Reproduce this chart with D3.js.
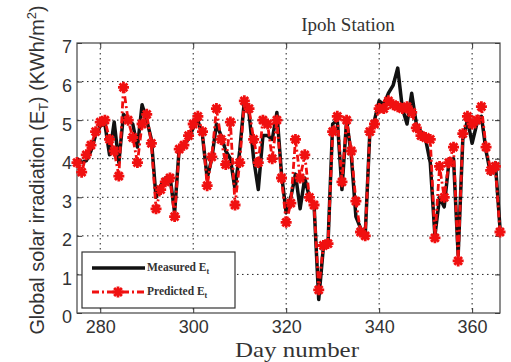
<!DOCTYPE html>
<html>
<head>
<meta charset="utf-8">
<script src="https://cdn.jsdelivr.net/npm/d3@7"></script>
<style>
  body { margin: 0; background: #fff; }
  svg { display: block; }
  svg text { fill: #333; }
  .serif { font-family: "Liberation Serif", "Times New Roman", serif; }
  .sans { font-family: "Liberation Sans", Arial, sans-serif; }
</style>
</head>
<body>
<div id="container"></div>
<script>
// day numbers 275..366
let days = d3.range(275, 367);

let measured = [
  4.0, 3.9, 3.95, 4.2, 4.6, 4.85, 4.9, 4.1, 4.95, 3.9,
  5.15, 5.0, 4.9, 4.3, 5.4, 5.0, 4.5, 3.0, 3.3, 3.5,
  3.55, 2.6, 4.3, 4.4, 4.5, 4.8, 5.0, 4.6, 3.5, 4.0,
  4.9, 4.6, 4.2, 4.0, 3.2, 4.2, 5.5, 5.2, 4.0, 3.2,
  4.6, 4.6, 4.5, 5.2, 3.6, 2.6, 3.0, 3.6, 2.7, 3.5,
  3.0, 2.8, 0.35, 1.7, 1.8, 4.9, 5.0, 3.2, 5.0, 4.1,
  2.5, 2.2, 2.0, 4.7, 5.0, 5.5, 5.4, 5.7, 5.9, 6.35,
  5.3, 4.9, 5.7, 4.9, 4.7, 4.5, 3.9, 2.0, 3.0, 2.75,
  3.9, 4.0, 1.5, 4.5, 5.0, 4.4, 4.9, 5.1, 4.2, 3.6,
  3.9, 2.2
];

let predicted = [
  3.9, 3.65, 4.1, 4.35, 4.7, 4.95, 5.0, 4.5, 4.2, 3.55,
  5.85, 5.0, 4.55, 3.9, 4.9, 5.15, 4.4, 2.7, 3.2, 3.4,
  3.5, 2.5, 4.25, 4.35, 4.6, 4.9, 5.1, 4.7, 3.3, 4.05,
  5.3, 4.5, 3.85, 4.95, 2.8, 3.9, 5.5, 5.3, 4.5, 3.9,
  5.0, 4.9, 4.0, 5.0, 3.5, 2.35, 2.85, 4.5, 3.5, 4.1,
  3.0, 2.8, 0.6, 1.75, 1.8, 4.7, 5.1, 3.4, 5.0, 4.2,
  2.9, 2.1, 2.0, 4.7, 4.9, 5.3, 5.3, 5.5, 5.4, 5.35,
  5.3, 5.35, 5.2, 4.8, 4.6, 4.55, 4.5, 1.95, 3.8, 3.0,
  3.9, 4.3, 1.35, 4.65, 5.1, 4.9, 5.0, 5.35, 4.3, 3.7,
  3.8, 2.1
];

let xTicks = [280, 300, 320, 340, 360];
let yTicks = [0, 1, 2, 3, 4, 5, 6, 7];

let svgWidth = 511;
let svgHeight = 362;
let margin = {l: 77, r: 11, t: 43, b: 49};
let w = svgWidth - margin.l - margin.r;
let h = svgHeight - margin.t - margin.b;

let svg = d3.select("#container").append("svg")
    .attr("width", svgWidth)
    .attr("height", svgHeight);

let g = svg.append("g")
    .attr("transform", `translate(${margin.l},${margin.t})`);

let xMap = d3.scaleLinear().domain([275, 366]).range([0, w]);
let yMap = d3.scaleLinear().domain([0, 7]).range([h, 0]);

// dotted grid
g.append("g").selectAll("line").data(xTicks).join("line")
    .attr("x1", d => xMap(d)).attr("x2", d => xMap(d))
    .attr("y1", 0).attr("y2", h)
    .attr("stroke", "#222").attr("stroke-width", 1)
    .attr("stroke-dasharray", "1.5,3.5");
g.append("g").selectAll("line").data(yTicks.slice(1, -1)).join("line")
    .attr("x1", 0).attr("x2", w)
    .attr("y1", d => yMap(d)).attr("y2", d => yMap(d))
    .attr("stroke", "#222").attr("stroke-width", 1)
    .attr("stroke-dasharray", "1.5,3.5");

// axes, matlab style ticks inside on all four sides
let axStyle = a => {
  a.attr("font-family", null).attr("font-size", null);
  a.select(".domain").remove();
  a.selectAll(".tick line").attr("stroke", "#333");
  a.selectAll(".tick text").attr("fill", "#444")
      .attr("class", "sans")
      .style("font-size", "18px");
};
g.append("g").attr("transform", `translate(0,${h})`)
    .call(d3.axisBottom(xMap).tickValues(xTicks).tickSize(-5).tickPadding(7))
    .call(axStyle);
g.append("g")
    .call(d3.axisLeft(yMap).tickValues(yTicks).tickSize(-5).tickPadding(5).tickFormat(d3.format("d")))
    .call(axStyle)
    .selectAll(".tick text").attr("dy", "0.55em");
g.append("g")
    .call(d3.axisTop(xMap).tickValues(xTicks).tickSize(-5).tickFormat(""))
    .call(axStyle);
g.append("g").attr("transform", `translate(${w},0)`)
    .call(d3.axisRight(yMap).tickValues(yTicks).tickSize(-5).tickFormat(""))
    .call(axStyle);

g.append("rect")
    .attr("width", w).attr("height", h)
    .attr("fill", "none").attr("stroke", "#444").attr("stroke-width", 1.2);

let lineM = d3.line().x((d, i) => xMap(days[i])).y(d => yMap(d));

// measured
g.append("path").datum(measured)
    .attr("d", lineM)
    .attr("fill", "none").attr("stroke", "#111")
    .attr("stroke-width", 3.5).attr("stroke-linejoin", "round");

// predicted
g.append("path").datum(predicted)
    .attr("d", lineM)
    .attr("fill", "none").attr("stroke", "#f01010")
    .attr("stroke-width", 2.8)
    .attr("stroke-dasharray", "7,3,2,3");

let star = r => {
  let p = d3.path();
  for (let k = 0; k < 4; k++) {
    let a = k * Math.PI / 4;
    p.moveTo(-r * Math.cos(a), -r * Math.sin(a));
    p.lineTo(r * Math.cos(a), r * Math.sin(a));
  }
  return p.toString();
};

g.append("g").selectAll("path").data(predicted).join("path")
    .attr("transform", (d, i) => `translate(${xMap(days[i])},${yMap(d)})`)
    .attr("d", star(5.5))
    .attr("fill", "none").attr("stroke", "#f01010")
    .attr("stroke-width", 2.8);

// legend
let lg = svg.append("g").attr("transform", "translate(82,252)");
lg.append("rect").attr("width", 153).attr("height", 56)
    .attr("fill", "#fff").attr("stroke", "#333").attr("stroke-width", 1.2);
lg.append("line").attr("x1", 10).attr("x2", 63).attr("y1", 16).attr("y2", 16)
    .attr("stroke", "#111").attr("stroke-width", 3.5);
lg.append("line").attr("x1", 10).attr("x2", 63).attr("y1", 40).attr("y2", 40)
    .attr("stroke", "#f01010").attr("stroke-width", 2.8)
    .attr("stroke-dasharray", "7,3,2,3");
lg.append("path").attr("transform", "translate(36,40)").attr("d", star(5.5))
    .attr("fill", "none").attr("stroke", "#f01010").attr("stroke-width", 2.8);

let legendText = ["Measured E", "Predicted E"];
lg.selectAll("text.lab").data(legendText).join("text")
    .attr("class", "lab serif")
    .attr("x", 65).attr("y", (d, i) => 19 + i * 24)
    .style("font-size", "11.5px").style("font-weight", "bold")
    .each(function(d) {
      let t = d3.select(this);
      t.append("tspan").text(d);
      t.append("tspan").attr("dy", 3).style("font-size", "8px").text("t");
    });

// title and labels
svg.append("text").attr("class", "serif")
    .attr("x", 348).attr("y", 31)
    .attr("text-anchor", "middle")
    .style("font-size", "19px")
    .text("Ipoh Station");

svg.append("text").attr("class", "serif")
    .attr("x", 297).attr("y", 357)
    .attr("text-anchor", "middle")
    .attr("textLength", 124)
    .attr("lengthAdjust", "spacingAndGlyphs")
    .style("font-size", "22px")
    .text("Day number");

let yl = svg.append("text").attr("class", "sans")
    .attr("transform", "translate(44,170) rotate(-90)")
    .attr("text-anchor", "middle")
    .style("font-size", "19px");
yl.append("tspan").text("Global solar irradiation (E");
yl.append("tspan").attr("dy", 4).style("font-size", "13px").text("T");
yl.append("tspan").attr("dy", -4).text(") (KWh/m");
yl.append("tspan").attr("dy", -8).style("font-size", "13px").text("2");
yl.append("tspan").attr("dy", 8).text(")");
// fit the rotated label to the height it takes in the picture
let len = yl.node().getComputedTextLength();
yl.style("font-size", (19 * 330 / len) + "px");
</script>
</body>
</html>
